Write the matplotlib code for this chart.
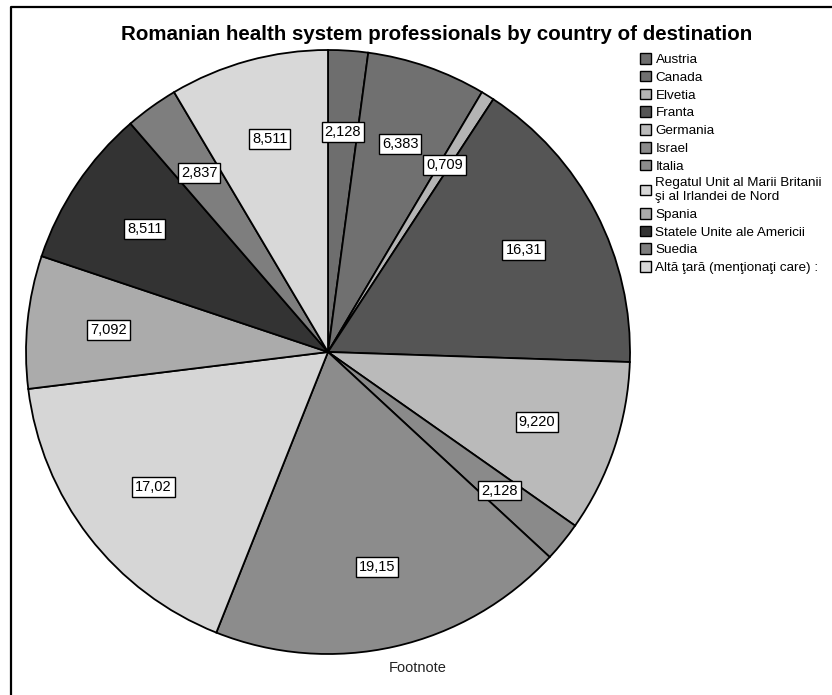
import matplotlib.pyplot as plt
from matplotlib.patches import Patch
from matplotlib.lines import Line2D
import numpy as np

plt.rcParams['font.family'] = ['Liberation Sans', 'DejaVu Sans']

# date (procente, in sensul acelor de ceasornic de sus)
countries = ["Austria", "Canada", "Elvetia", "Franta", "Germania", "Israel", "Italia",
             "Regatul Unit al Marii Britanii\nşi al Irlandei de Nord", "Spania",
             "Statele Unite ale Americii", "Suedia", "Altă ţară (menţionaţi care) :"]
values = [2.128, 6.383, 0.709, 16.31, 9.220, 2.128, 19.15, 17.02, 7.092, 8.511, 2.837, 8.511]
value_labels = ["2,128", "6,383", "0,709", "16,31", "9,220", "2,128", "19,15", "17,02",
                "7,092", "8,511", "2,837", "8,511"]
colors = ["#6e6e6e", "#707070", "#b4b4b4", "#555555", "#bababa", "#8a8a8a", "#8c8c8c",
          "#d6d6d6", "#ababab", "#333333", "#7e7e7e", "#d8d8d8"]

W, H = 832, 695
fig = plt.figure(figsize=(W / 100, H / 100), dpi=100)

# chenarul figurii: doar stanga si sus se vad
bx, by = 11 / W, 1 - 7 / H
fig.lines.append(Line2D([bx, bx, 1.1], [-0.1, by, by], transform=fig.transFigure,
                        color="black", linewidth=1.6))

cx, cy, R = 328, 352, 302
ax = fig.add_axes([(cx - R) / W, 1 - (cy + R) / H, 2 * R / W, 2 * R / H])
wedges, _ = ax.pie(values, colors=colors, startangle=90, counterclock=False, radius=1,
                   wedgeprops=dict(edgecolor="black", linewidth=1.3))
ax.set_xlim(-1, 1)
ax.set_ylim(-1, 1)
ax.set_aspect('equal')
ax.axis('off')

# etichete cu valori
for w, lab in zip(wedges, value_labels):
    ang = np.deg2rad((w.theta1 + w.theta2) / 2)
    ax.text(0.73 * np.cos(ang), 0.73 * np.sin(ang), lab, ha="center", va="center",
            fontsize=10.5, bbox=dict(boxstyle="square,pad=0.2", facecolor="white",
                                     edgecolor="black", linewidth=1))

fig.text(437 / W, 1 - 35 / H, "Romanian health system professionals by country of destination",
         ha="center", va="center", fontsize=14.8, fontweight="bold")
fig.text(418 / W, 1 - 668 / H, "Footnote", ha="center", va="center", fontsize=10.5, color="#222222")

handles = [Patch(facecolor=c, edgecolor="black", linewidth=1) for c in colors]
fig.legend(handles, countries, loc="upper left", bbox_to_anchor=(640 / W, 1 - 53 / H),
           frameon=False, fontsize=9.7, handlelength=0.85, handleheight=0.85,
           handletextpad=0.3, labelspacing=0.35, borderpad=0, borderaxespad=0)

fig.savefig("out.png", dpi=100)
